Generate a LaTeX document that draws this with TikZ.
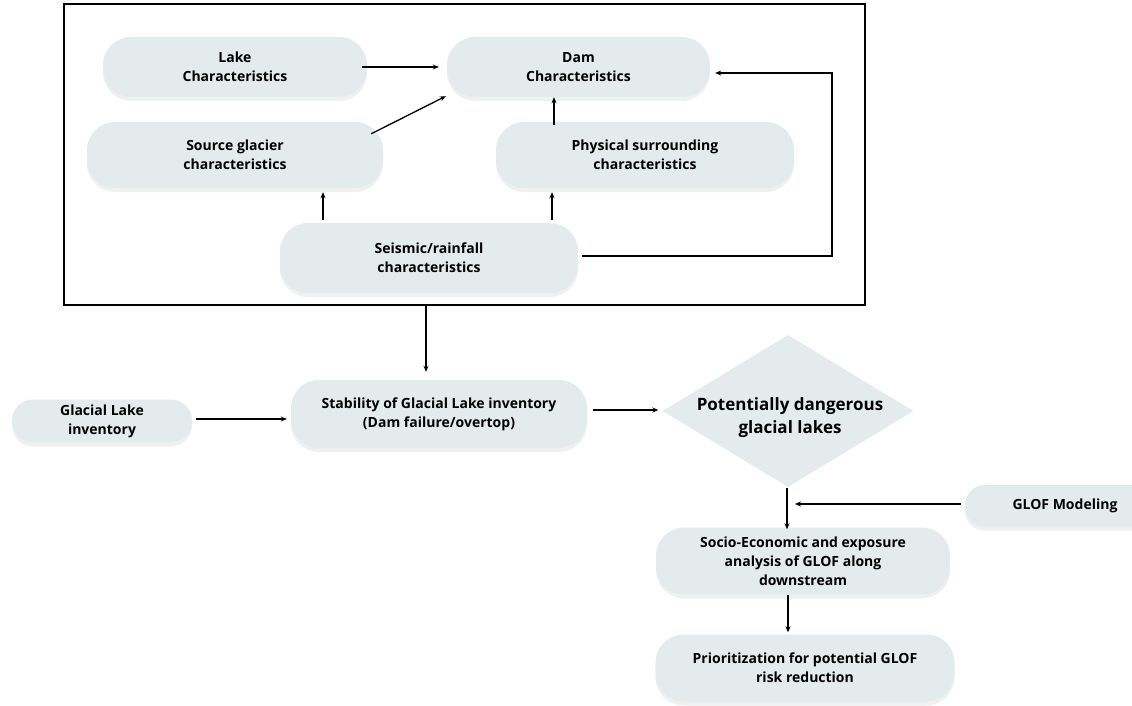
\documentclass[tikz,border=0pt]{standalone}
\usepackage{fontspec}
\setmainfont{Open Sans}
\usetikzlibrary{arrows.meta,shapes.geometric,shadows,calc}
\definecolor{boxfill}{HTML}{E4EBEC}
\tikzset{
  pill/.style={fill=boxfill, rounded corners=#1, align=center, inner sep=0pt,
    font=\fontsize{14}{19}\selectfont\bfseries,
    drop shadow={opacity=0.12, shadow xshift=0pt, shadow yshift=-4pt}},
  pill/.default=28pt,
  dia/.style={diamond, fill=boxfill, align=center, inner sep=0pt,
    font=\fontsize{17}{23}\selectfont\bfseries},
  arr/.style={-{Stealth[length=6pt,width=5pt]}, line width=1.3pt},
  framebox/.style={draw, line width=1.8pt, inner sep=0pt},
}
\begin{document}
\begin{tikzpicture}[x=1pt,y=-1pt]
\useasboundingbox (0,0) rectangle (1132,706);
\clip (0,0) rectangle (1132,706);
\node[framebox, minimum width=801pt, minimum height=301pt] (frame) at (464.5,154.5) {};

\node[pill, minimum width=264pt, minimum height=60pt] (lake) at (235,67) {Lake\\Characteristics};
\node[pill, minimum width=263pt, minimum height=60pt] (dam) at (578.5,67) {Dam\\Characteristics};
\node[pill, minimum width=296pt, minimum height=66pt] (source) at (235,155) {Source glacier\\characteristics};
\node[pill, minimum width=298pt, minimum height=66pt] (phys) at (645,155) {Physical surrounding\\characteristics};
\node[pill, minimum width=298pt, minimum height=70pt] (seis) at (429,258) {Seismic/rainfall\\characteristics};

\node[pill=21pt, minimum width=180pt, minimum height=43pt] (glac) at (102,421) {Glacial Lake\\inventory};
\node[pill, minimum width=296pt, minimum height=68pt] (stab) at (439,414) {Stability of Glacial Lake inventory\\(Dam failure/overtop)};
\node[dia, minimum width=251pt, minimum height=152pt] (pdl) at (788,411) {};
\node[font=\fontsize{17}{23}\selectfont\bfseries, align=center] (pdltxt) at (790,418) {Potentially dangerous\\glacial lakes};
\node[pill=20pt, minimum width=200pt, minimum height=42pt] (glof) at (1065,506) {GLOF Modeling};
\node[pill, minimum width=294pt, minimum height=67pt] (socio) at (803,561) {Socio-Economic and exposure\\analysis of GLOF along\\downstream};
\node[pill, minimum width=299pt, minimum height=67pt] (prior) at (805,668) {Prioritization for potential GLOF\\risk reduction};

\coordinate (xa) at (554,0);
\coordinate (xb) at (323,0);
\coordinate (xc) at (552,0);
\coordinate (xl) at (832,0);
\coordinate (xs) at (426,0);

\draw[arr] ([xshift=-5pt]lake.east) -- ([xshift=-8pt]dam.west);
\draw[arr] ($(source.north east)+(-12,12)$) -- ($(dam.south west)+(-1,-1)$);
\draw[arr] ($(xa |- phys.north)+(0,3)$) -- (xa |- dam.south);
\draw[arr] ($(xb |- seis.north)+(0,-3)$) -- ($(xb |- source.south)+(0,4)$);
\draw[arr] ($(xc |- seis.north)+(0,-3)$) -- ($(xc |- phys.south)+(0,4)$);
\draw[line width=1.3pt, -{Stealth[length=6pt,width=5pt]}] ($(seis.east)+(4,-2)$) -- ($(xl |- seis.east)+(0,-2)$) -- ($(xl |- dam.east)+(0,6)$) -- ($(dam.east)+(5,6)$);

\draw[arr] (xs |- frame.south) -- ($(xs |- stab.north)+(0,-8)$);
\draw[arr] ($(glac.east)+(4,-2)$) -- ($(glac.east -| stab.west)+(-4,-2)$);
\draw[arr] ($(stab.east)+(6,-4)$) -- ($(stab.east -| pdl.west)+(-4,-4)$);
\draw[arr] ($(pdl.south)+(-1,1)$) -- ($(pdl.south |- socio.north)+(-1,2)$);
\draw[arr] ($(glof.west)+(-4,-2)$) -- ($(glof.west -| pdl.south)+(7,-2)$);
\draw[arr] (pdl.south |- socio.south) -- ($(pdl.south |- prior.north)+(0,-2)$);
\end{tikzpicture}
\end{document}
